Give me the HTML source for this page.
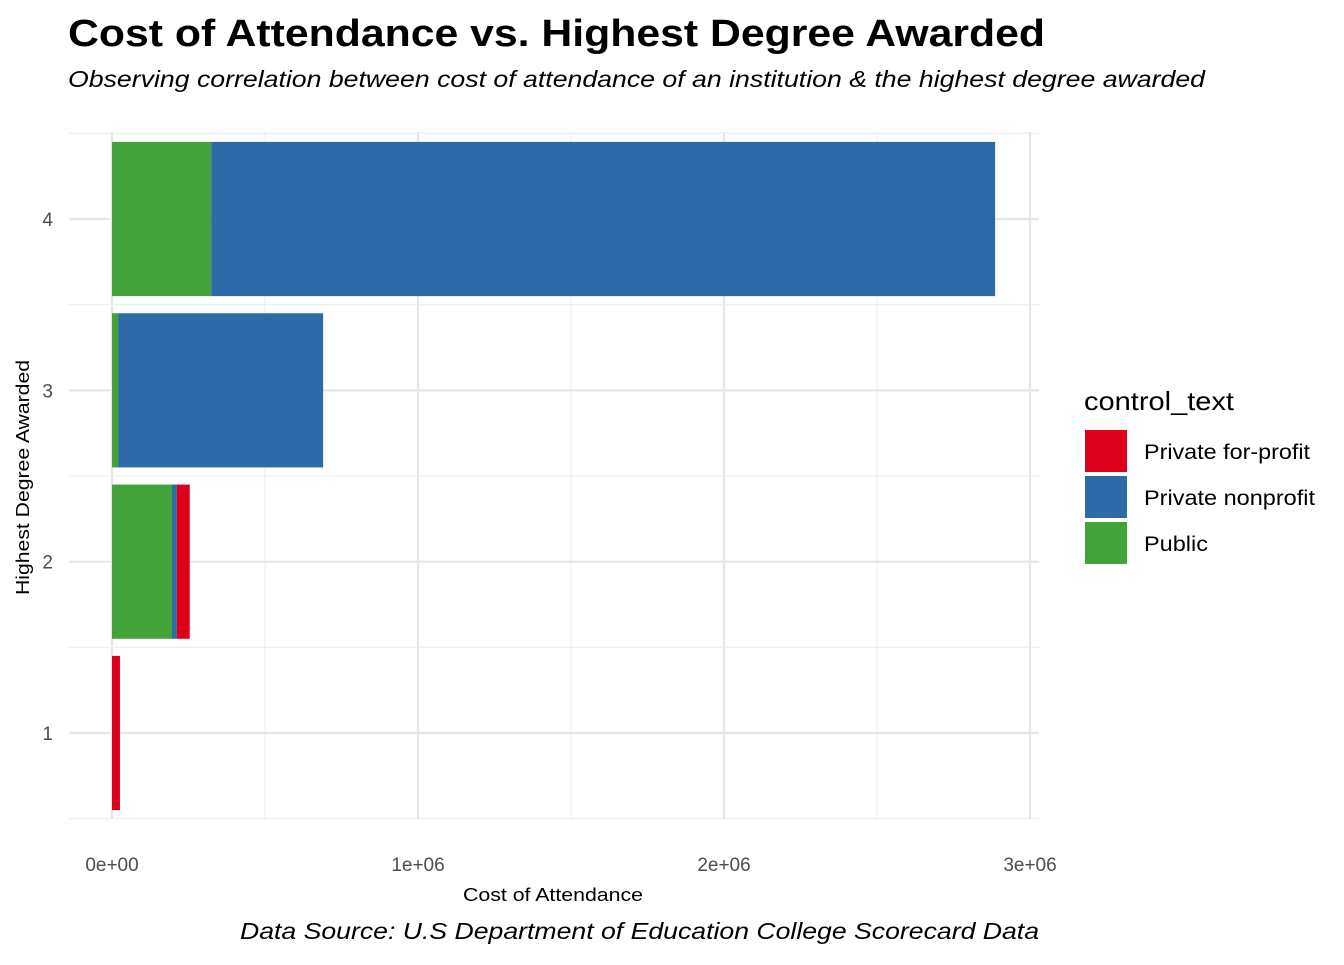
<!DOCTYPE html>
<html><head><meta charset="utf-8"><style>
body{margin:0;background:#fff;font-family:"Liberation Sans",Arial,sans-serif;}
svg text{font-family:"Liberation Sans",Arial,sans-serif;}
</style></head><body>
<svg id="c" width="1344" height="960" xmlns="http://www.w3.org/2000/svg">
<text x="68" y="46" font-size="38" font-weight="bold" fill="#000" textLength="977" lengthAdjust="spacingAndGlyphs">Cost of Attendance vs. Highest Degree Awarded</text>
<text x="68" y="87" font-size="23" font-style="italic" fill="#000" textLength="1137" lengthAdjust="spacingAndGlyphs">Observing correlation between cost of attendance of an institution &amp; the highest degree awarded</text>
<g id="grid"></g>
<g id="bars"></g>
<g id="axes"></g>
<text x="463" y="901" font-size="18" fill="#000" textLength="180" lengthAdjust="spacingAndGlyphs">Cost of Attendance</text>
<text transform="translate(29,595) rotate(-90)" font-size="18" fill="#000" textLength="235" lengthAdjust="spacingAndGlyphs">Highest Degree Awarded</text>
<text x="240" y="939" font-size="23" font-style="italic" fill="#000" textLength="799" lengthAdjust="spacingAndGlyphs">Data Source: U.S Department of Education College Scorecard Data</text>
<g>
<text x="1084" y="410" font-size="26" fill="#000" textLength="150" lengthAdjust="spacingAndGlyphs">control_text</text>
<g><rect x="1085" y="430" width="42" height="42" fill="#DC001B"/><text x="1144" y="459" font-size="21" textLength="166" lengthAdjust="spacingAndGlyphs">Private for-profit</text></g>
<g><rect x="1085" y="476" width="42" height="42" fill="#2D6BA8"/><text x="1144" y="505" font-size="21" textLength="171" lengthAdjust="spacingAndGlyphs">Private nonprofit</text></g>
<g><rect x="1085" y="522" width="42" height="42" fill="#43A33A"/><text x="1144" y="551" font-size="21" textLength="64" lengthAdjust="spacingAndGlyphs">Public</text></g>
</g>
</svg>
<script>
const degrees=[1,2,3,4];
const publicVals=[0,196000,20000,324000];
const nonprofitVals=[0,16000,670000,2562000];
const forprofitVals=[26000,42000,0,0];
const xTicks=[0,1000000,2000000,3000000];
const xTickLabels=["0e+00","1e+06","2e+06","3e+06"];
const NS="http://www.w3.org/2000/svg";
const X0=69,X1=1039,Y0=132,Y1=819;
function xs(v){return 112+v*306/1e6;}
function ys(d){return 733-(d-1)*171.33;}
function mk(t,a,p){const e=document.createElementNS(NS,t);for(const k in a)e.setAttribute(k,a[k]);p.appendChild(e);return e;}
const g=document.getElementById('grid'),b=document.getElementById('bars'),ax=document.getElementById('axes');
for(let i=0;i<xTicks.length;i++){
  const x=xs(xTicks[i]);
  const l=mk('line',{x1:x,x2:x,y1:Y0,y2:Y1,stroke:'#e6e6e6','stroke-width':2.2},g);
  
  if(i<xTicks.length-1){const xm=xs((xTicks[i]+xTicks[i+1])/2);
    const m=mk('line',{x1:xm,x2:xm,y1:Y0,y2:Y1,stroke:'#ededed','stroke-width':1.1},g);
    }
  const t=mk('text',{x:x,y:871,'font-size':19,'text-anchor':'middle',fill:'#4d4d4d'},ax);t.textContent=xTickLabels[i];
  
}
for(let d=0.5;d<=4.5;d+=1){const y=ys(d);
  const m=mk('line',{x1:X0,x2:X1,y1:y,y2:y,stroke:'#ededed','stroke-width':1.1},g);
  }
degrees.forEach((d,i)=>{
  const y=ys(d);
  const l=mk('line',{x1:X0,x2:X1,y1:y,y2:y,stroke:'#e6e6e6','stroke-width':2.2},g);
  
  const t=mk('text',{x:53,y:y+7,'font-size':19,'text-anchor':'end',fill:'#4d4d4d'},ax);t.textContent=String(d);
  
  const h=171.33*0.9;let acc=0;
  [[publicVals[i],'#43A33A','public'],[nonprofitVals[i],'#2D6BA8','nonprofit'],[forprofitVals[i],'#DC001B','for-profit']].forEach(s=>{
    if(s[0]<=0)return;
    const r=mk('rect',{x:xs(acc),y:y-h/2,width:xs(acc+s[0])-xs(acc),height:h,fill:s[1]},b);
    
    acc+=s[0];
  });
});
</script>
</body></html>
